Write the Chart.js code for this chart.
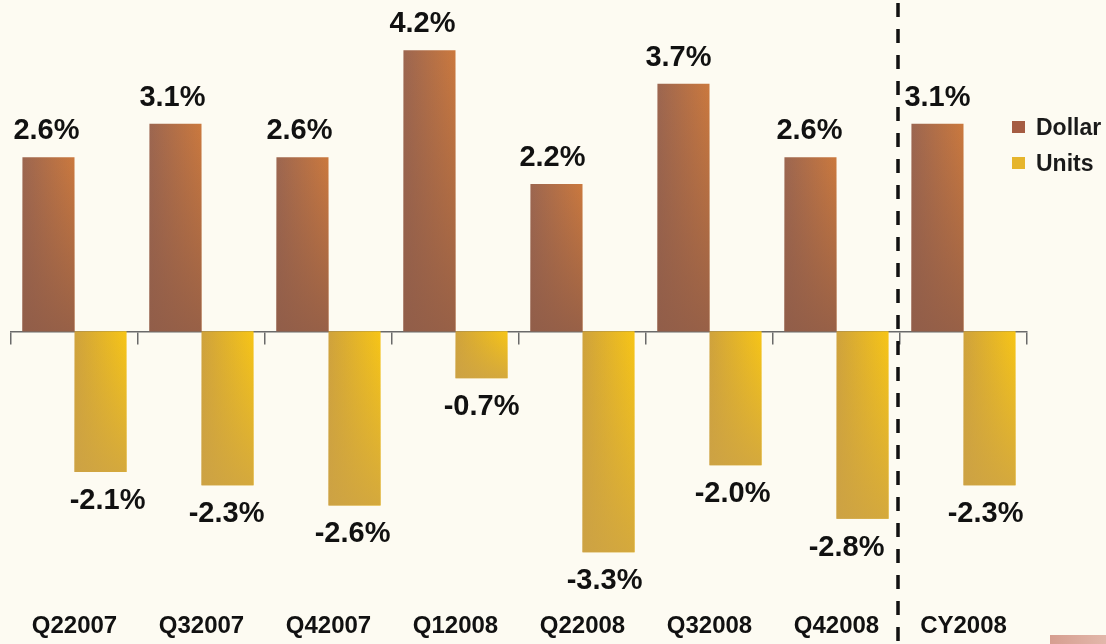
<!DOCTYPE html>
<html><head><meta charset="utf-8">
<script src="https://cdn.jsdelivr.net/npm/chart.js@4/dist/chart.umd.min.js"></script>
<style>
html,body{margin:0;padding:0;background:#fdfbf2;}
#wrap{position:relative;width:1106px;height:644px;overflow:hidden;background:#fdfbf2;}
#deco{position:absolute;left:1050px;top:635px;width:60px;height:12px;background:linear-gradient(90deg,#d69e90,#e3b9ac);}
</style></head><body>
<div id="wrap"><canvas id="c" width="1106" height="644"></canvas><div id="deco"></div></div>
<script>
const categories = ['Q22007','Q32007','Q42007','Q12008','Q22008','Q32008','Q42008','CY2008'];
const dollarValues = [2.6, 3.1, 2.6, 4.2, 2.2, 3.7, 2.6, 3.1];
const unitsValues = [-2.1, -2.3, -2.6, -0.7, -3.3, -2.0, -2.8, -2.3];
const seriesNames = ['Dollar', 'Units'];
const dividerAfterIndex = 6;

// styling only: small horizontal nudges of value labels (px)
const dollarLabelNudge = [-2, -3, -3, -7, -4, -5, -1, 0];
const unitsLabelNudge = [7, -1, -2, 0, -4, -3, -16, -4];

const FONT = '"Liberation Sans", Arial, sans-serif';
const CAT_PCT = 0.82;

function barFill(ctx, leftColor, rightColor, side) {
  const chart = ctx.chart;
  const xs = chart.scales.x;
  if (!xs || ctx.dataIndex === undefined || !isFinite(xs.width) || xs.width <= 0) return rightColor;
  const catW = xs.width / categories.length;
  const center = xs.getPixelForValue(ctx.dataIndex);
  if (!isFinite(center)) return rightColor;
  const half = catW * CAT_PCT / 2;
  const l = side < 0 ? center - half : center;
  const r = side < 0 ? center : center + half;
  if (!isFinite(l) || !isFinite(r)) return rightColor;
  const g = chart.ctx.createLinearGradient(l, 0, r, 0);
  g.addColorStop(0, leftColor);
  g.addColorStop(1, rightColor);
  return g;
}

const shadePlugin = {
  id: 'shade',
  afterDatasetsDraw(chart) {
    const c = chart.ctx;
    chart.data.datasets.forEach((ds, di) => {
      const meta = chart.getDatasetMeta(di);
      meta.data.forEach(el => {
        const top = Math.min(el.y, el.base), bot = Math.max(el.y, el.base);
        if (!isFinite(top) || !isFinite(bot) || bot - top < 1) return;
        const g = c.createLinearGradient(0, top, 0, bot);
        g.addColorStop(0, ds.shade + '0)');
        g.addColorStop(1, ds.shade + ds.shadeAlpha + ')');
        c.save();
        c.fillStyle = g;
        c.fillRect(el.x - el.width / 2, top, el.width, bot - top);
        c.restore();
      });
    });
  }
};

const labelPlugin = {
  id: 'vlabels',
  afterDatasetsDraw(chart) {
    const c = chart.ctx;
    c.save();
    c.font = 'bold 29px ' + FONT;
    c.fillStyle = '#111';
    c.textAlign = 'center';
    c.textBaseline = 'alphabetic';
    chart.data.datasets.forEach((ds, di) => {
      const meta = chart.getDatasetMeta(di);
      meta.data.forEach((el, i) => {
        const v = ds.data[i];
        const txt = v.toFixed(1) + '%';
        const y = v >= 0 ? el.y - 18 : el.y + 37;
        const dx = (ds.labelNudge && ds.labelNudge[i]) || 0;
        c.fillText(txt, el.x + dx, y);
      });
    });
    c.restore();
  }
};

const dividerPlugin = {
  id: 'divider',
  afterDraw(chart) {
    const xs = chart.scales.x;
    const x = xs.getPixelForValue(dividerAfterIndex + 0.5) - 2;
    if (!isFinite(x)) return;
    const c = chart.ctx;
    c.save();
    c.strokeStyle = '#111';
    c.lineWidth = 3.5;
    c.setLineDash([14, 12]);
    c.beginPath();
    c.moveTo(x, 3);
    c.lineTo(x, chart.height);
    c.stroke();
    c.restore();
  }
};

const legendPlugin = {
  id: 'customLegend',
  afterDraw(chart) {
    const c = chart.ctx;
    c.save();
    c.font = 'bold 23px ' + FONT;
    c.textBaseline = 'alphabetic';
    c.textAlign = 'left';
    chart.data.datasets.forEach((ds, i) => {
      const y0 = 121 + i * 36;
      c.fillStyle = ds.legendColor;
      c.fillRect(1012, y0, 13, 12);
      c.fillStyle = '#1a1a1a';
      c.fillText(ds.label, 1036, y0 + 14);
    });
    c.restore();
  }
};

new Chart(document.getElementById('c'), {
  type: 'bar',
  data: {
    labels: categories,
    datasets: [
      {
        label: seriesNames[0],
        data: dollarValues,
        labelNudge: dollarLabelNudge,
        backgroundColor: ctx => barFill(ctx, '#9c6650', '#cb793e', -1),
        legendColor: '#a55c42',
        shade: 'rgba(143,92,72,', shadeAlpha: 0.85,
        borderWidth: 0,
        categoryPercentage: CAT_PCT,
        barPercentage: 1.0
      },
      {
        label: seriesNames[1],
        data: unitsValues,
        labelNudge: unitsLabelNudge,
        backgroundColor: ctx => barFill(ctx, '#cfa23c', '#f7c516', 1),
        legendColor: '#e6b52c',
        shade: 'rgba(204,162,70,', shadeAlpha: 0.8,
        borderWidth: 0,
        categoryPercentage: CAT_PCT,
        barPercentage: 1.0
      }
    ]
  },
  options: {
    responsive: false,
    devicePixelRatio: 1,
    animation: false,
    layout: { padding: { left: 11, right: 79, top: 10, bottom: 0 } },
    plugins: { legend: { display: false }, tooltip: { enabled: false } },
    scales: {
      x: {
        type: 'category',
        position: { y: 0 },
        offset: true,
        grid: { display: true, drawOnChartArea: false, drawTicks: true, tickLength: 12, color: '#6a6a6a', lineWidth: 1.5, offset: true },
        border: { display: true, color: '#6a6a6a', width: 1.5 },
        ticks: { display: false }
      },
      x2: {
        type: 'category',
        labels: categories,
        position: 'bottom',
        offset: true,
        grid: { display: false, drawTicks: false },
        border: { display: false },
        ticks: { font: { family: FONT, size: 24, weight: 'bold' }, color: '#111', padding: 3, maxRotation: 0, autoSkip: false }
      },
      y: { display: false, min: -4.15, max: 4.8 }
    }
  },
  plugins: [shadePlugin, labelPlugin, dividerPlugin, legendPlugin]
});
</script>
</body></html>
